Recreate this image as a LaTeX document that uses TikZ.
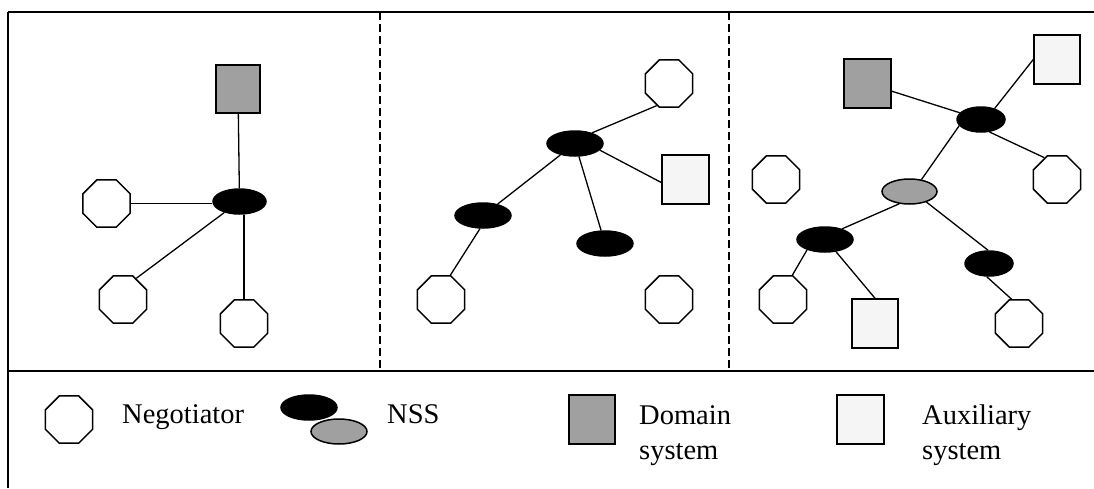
\documentclass[tikz,border=0pt]{standalone}
\usepackage{fontspec}
\setmainfont{Liberation Serif}
\usetikzlibrary{shapes.geometric}
\definecolor{darkfill}{HTML}{A0A0A0}
\definecolor{lightfill}{HTML}{F5F5F5}
\begin{document}
\begin{tikzpicture}[x=1pt,y=-1pt,
  shp/.style={draw=black,line width=1.5pt,inner sep=0pt},
  octa/.style={shp,regular polygon,regular polygon sides=8,minimum size=51pt,fill=white},
  nssb/.style={shp,ellipse,fill=black,minimum height=25pt},
  nssg/.style={shp,ellipse,fill=darkfill,minimum height=25pt},
  dsys/.style={shp,rectangle,fill=darkfill,minimum width=46pt,minimum height=49pt},
  asys/.style={shp,rectangle,fill=lightfill,minimum width=46pt,minimum height=49pt},
  conn/.style={line width=1.3pt},
  frame/.style={line width=1.6pt},
  sep/.style={line width=1.3pt,dash pattern=on 8pt off 4pt},
  lbl/.style={font=\fontsize{28.5}{35}\selectfont,inner sep=0pt,align=left}]
\useasboundingbox (0,0) rectangle (1094,488);
% frame
\coordinate (tl) at (8,12);
\coordinate (tr) at (1094,12);
\coordinate (bl) at (8,488);
\coordinate (ml) at (8,371);
\coordinate (mr) at (1094,371);
\coordinate (d1t) at (380,12);
\coordinate (d1b) at (380,371);
\coordinate (d2t) at (729,12);
\coordinate (d2b) at (729,371);
\draw[frame] (tl) -- (tr);
\draw[frame] (tl) -- (bl);
\draw[frame] (ml) -- (mr);
\draw[sep] (d1t) -- (d1b);
\draw[sep] (d2t) -- (d2b);
% panel 1
\node[dsys,minimum width=44pt,minimum height=48pt] (sqD1) at (238,89) {};
\node[nssb,minimum width=53pt] (e1) at (239.5,201.5) {};
\node[octa] (oA) at (106.5,203.5) {};
\node[octa] (oB) at (123,299.5) {};
\node[octa] (oC) at (244,323.5) {};
\draw[conn] (sqD1) -- (e1);
\draw[conn] (oA.east) -- (e1.west |- oA.east);
\draw[conn] (e1.216) -- (oB.58);
\draw[conn] (oC.north) -- (oC.north |- e1.south);
% panel 2
\node[octa] (oD) at (669,83.5) {};
\node[nssb,minimum width=56pt] (e2) at (575,143.5) {};
\node[asys,minimum width=47pt] (sqA1) at (685.5,179.5) {};
\node[nssb,minimum width=56pt] (e3) at (483,215.5) {};
\node[nssb,minimum width=56pt] (e4) at (605,243.5) {};
\node[octa] (oE) at (441,299.5) {};
\node[octa] (oF) at (669,299.5) {};
\draw[conn] (e2.32) -- (oD.241);
\draw[conn] (e2.-15) -- (sqA1.187);
\draw[conn] (e2) -- (e3);
\draw[conn] (e2) -- (e4);
\draw[conn] (e3.257) -- (oE.69);
% panel 3
\node[dsys,minimum width=47pt] (sqD2) at (867.5,83.5) {};
\node[asys] (sqA2) at (1057,59.5) {};
\node[nssb,minimum width=48pt] (e5) at (981,119.5) {};
\node[octa] (oG) at (776,179.5) {};
\node[octa] (oH) at (1057,179.5) {};
\node[nssg,minimum width=55pt] (g1) at (909.5,191.5) {};
\node[nssb,minimum width=56pt] (e6) at (825,239.5) {};
\node[nssb,minimum width=48pt] (e7) at (989,263.5) {};
\node[octa] (oI) at (783,299.5) {};
\node[asys] (sqA3) at (875,323.5) {};
\node[octa] (oJ) at (1019,323.5) {};
\draw[conn] (sqD2) -- (e5);
\draw[conn] (sqA2.west) -- (e5.39);
\draw[conn] (e5.304) -- (oH.120);
\draw[conn] (e5.196) -- (g1.45);
\draw[conn] (g1.230) -- (e6.32);
\draw[conn] (g1.328) -- (e7.94);
\draw[conn] (e6.210) -- (oI.69);
\draw[conn] (e6.312) -- (sqA3.north);
\draw[conn] (e7.260) -- (oJ.107);
% legend
\node[octa] (oL) at (69,419.5) {};
\node[lbl,anchor=base west] (tNeg) at (122,423) {Negotiator};
\node[nssb,minimum width=56pt] (eL) at (309,407.5) {};
\node[nssg,minimum width=56pt] (gL) at (339,431.5) {};
\node[lbl,anchor=base west] (tNSS) at (387,423) {NSS};
\node[dsys] (sqDL) at (592,419.5) {};
\node[lbl,anchor=base west] (tDom) at (639,459) {Domain\\system};
\node[asys,minimum width=47pt] (sqAL) at (860.5,419.5) {};
\node[lbl,anchor=base west] (tAux) at (922,459) {Auxiliary\\system};
\end{tikzpicture}
\end{document}
